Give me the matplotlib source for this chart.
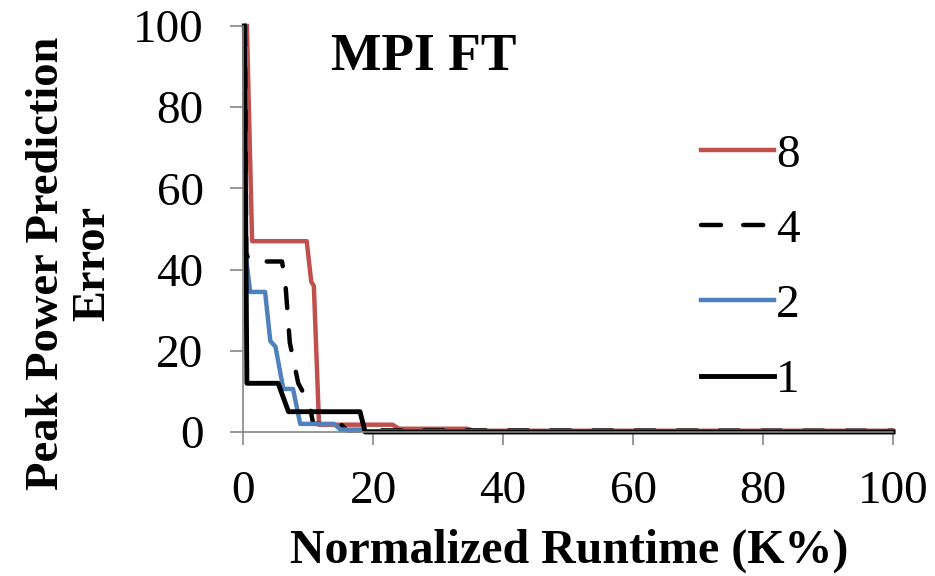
import matplotlib
matplotlib.use("Agg")
import matplotlib.pyplot as plt

plt.rcParams['font.family'] = ['Liberation Serif', 'DejaVu Serif']

# error curves vs normalized runtime, one per core count
x_8 = [0.6, 1.4, 9.8, 10.5, 10.9, 11.7, 23.0, 24.0, 34.5, 35.5, 100]
y_8 = [100, 47, 47, 37, 36, 1.8, 1.8, 0.8, 0.8, 0.3, 0.3]

x_4 = [0.3, 0.5, 1.0, 6.0, 6.5, 7.2, 8.5, 10.2, 10.8, 15.0, 16.0, 100]
y_4 = [100, 44, 42, 42, 37, 22, 12, 7, 2, 2, 0.4, 0.3]

x_2 = [0.2, 0.4, 1.1, 3.4, 4.2, 5.0, 6.2, 7.7, 8.8, 14.0, 15.0, 18.5, 19.0, 100]
y_2 = [100, 44, 34.5, 34.5, 22.4, 21, 10.6, 10.6, 2, 2, 0.6, 0.6, 0.2, 0.2]

x_1 = [0.2, 0.6, 5.4, 7.0, 18.0, 18.8, 100]
y_1 = [100, 12, 12, 5, 5, 0, 0]

labels = ['8', '4', '2', '1']
xticks = [0, 20, 40, 60, 80, 100]
yticks = [0, 20, 40, 60, 80, 100]

fig = plt.figure(figsize=(9.35, 5.76), dpi=100)
ax = fig.add_axes([243/935, 1 - 432/576, 650/935, 406/576])

red = '#C0504D'
blue = '#4F81BD'
ax.plot(x_8, y_8, color=red, lw=3.2, clip_on=False, label=labels[0])
ax.plot(x_4, y_4, color='black', lw=3.2, dashes=(4.5, 5), dash_capstyle='round',
        clip_on=False, label=labels[1])
ax.plot(x_2, y_2, color=blue, lw=3.2, clip_on=False, label=labels[2])
ax.plot(x_1, y_1, color='black', lw=3.5, clip_on=False, label=labels[3])

ax.set_xlim(0, 100)
ax.set_ylim(0, 100)
ax.set_xticks(xticks)
ax.set_yticks(yticks)

for s in ['top', 'right']:
    ax.spines[s].set_visible(False)
for s in ['left', 'bottom']:
    ax.spines[s].set_color('#868686')
    ax.spines[s].set_linewidth(1.2)
ax.tick_params(axis='both', direction='out', length=9.4, width=1.2, color='#868686',
               labelsize=34)
ax.tick_params(axis='x', pad=18)
ax.tick_params(axis='y', pad=19)

ax.text(27.8, 89.2, 'MPI FT', fontsize=38.5, fontweight='bold', ha='center', va='baseline')

fig.text(70/935, 1 - 263/576, 'Peak Power Prediction\nError', rotation=90, ha='center',
         va='center', multialignment='center', fontsize=33.5, fontweight='bold', linespacing=1.15)
fig.text(569/935, 1 - 563/576, 'Normalized Runtime (K%)', ha='center', va='baseline',
         fontsize=34.5, fontweight='bold')

leg = ax.legend(loc='upper left', bbox_to_anchor=(677/935, 1 - 110/576),
                bbox_transform=fig.transFigure, frameon=False, fontsize=34,
                handlelength=1.55, handletextpad=0.05, labelspacing=0.68, borderpad=0)

fig.savefig('out.png', dpi=100)
